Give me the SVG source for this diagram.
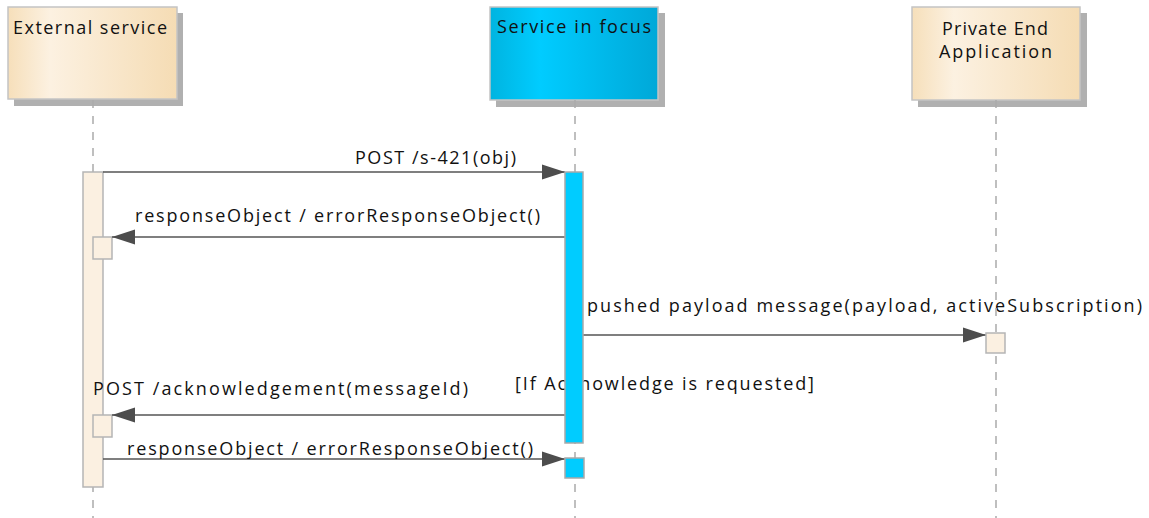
<svg xmlns="http://www.w3.org/2000/svg" width="1149" height="518" viewBox="0 0 1149 518">
<style>
text{font-family:"Open Sans","Liberation Sans",Arial,sans-serif;font-size:18px;fill:#111;}
.msg{stroke:#555;stroke-width:1.5;fill:none;marker-end:url(#arr);}
.life{stroke:#aaa;stroke-width:1.5;stroke-dasharray:8 8;fill:none;}
.shadow{fill:#b0b0b0;}
.hdr{stroke:#c4c4c4;stroke-width:1.5;}
.actB{fill:#fbf0e1;stroke:#b5b5b5;stroke-width:1.5;}
.actC{fill:#00ccff;stroke:#a9a9a9;stroke-width:1.5;}
</style>
<defs>
<linearGradient id="beige" x1="0" y1="0" x2="1" y2="0">
<stop offset="0" stop-color="#f6dfba"/>
<stop offset="0.25" stop-color="#fcf1e1"/>
<stop offset="1" stop-color="#f5dcb4"/>
</linearGradient>
<linearGradient id="cyan" x1="0" y1="0" x2="1" y2="0">
<stop offset="0" stop-color="#00b4e0"/>
<stop offset="0.3" stop-color="#00ccff"/>
<stop offset="1" stop-color="#00a8d8"/>
</linearGradient>
<marker id="arr" markerWidth="23" markerHeight="16" refX="23" refY="8" orient="auto" markerUnits="userSpaceOnUse">
<path d="M0,0.5 L23,8 L0,15.5 z" fill="#4d4d4d"/>
</marker>
</defs>
<rect width="1149" height="518" fill="#fff"/>

<g id="external">
<rect class="shadow" x="14" y="13" width="169" height="93"/>
<rect class="hdr" x="8" y="7" width="169" height="92" fill="url(#beige)"/>
<text x="13" y="34" textLength="154" lengthAdjust="spacing">External service</text>
<path class="life" d="M93,100 V518"/>
<rect class="actB" x="83" y="172" width="20" height="315"/>
<rect class="actB" x="93" y="237" width="19" height="22"/>
<rect class="actB" x="93" y="415" width="19" height="22"/>
</g>

<g id="connectors">
<path class="msg" d="M103,172 H565"/>
<text x="355" y="164" textLength="161" lengthAdjust="spacing">POST /s-421(obj)</text>
<path class="msg" d="M565,237 H112"/>
<text x="135" y="222" textLength="405" lengthAdjust="spacing">responseObject / errorResponseObject()</text>
<path class="msg" d="M583,335 H986"/>
<text x="587" y="312" textLength="555" lengthAdjust="spacing">pushed payload message(payload, activeSubscription)</text>
<path class="msg" d="M565,415 H112"/>
<text x="93" y="395" textLength="375" lengthAdjust="spacing">POST /acknowledgement(messageId)</text>
<text x="515" y="390" textLength="299" lengthAdjust="spacing">[If Acknowledge is requested]</text>
<path class="msg" d="M103,459 H565"/>
<text x="127" y="455" textLength="406" lengthAdjust="spacing">responseObject / errorResponseObject()</text>
</g>

<g id="focus">
<rect class="shadow" x="496" y="13" width="169" height="94"/>
<rect class="hdr" x="490" y="7" width="168" height="93" fill="url(#cyan)"/>
<text x="497" y="33" textLength="154" lengthAdjust="spacing">Service in focus</text>
<path class="life" d="M575,100 V518"/>
<rect class="actC" x="565" y="172" width="18" height="271"/>
<rect class="actC" x="565" y="458" width="19" height="20"/>
</g>

<g id="private">
<rect class="shadow" x="918" y="13" width="169" height="94"/>
<rect class="hdr" x="912" y="7" width="168" height="93" fill="url(#beige)"/>
<text x="942" y="35" textLength="106" lengthAdjust="spacing">Private End</text>
<text x="939" y="58" textLength="113" lengthAdjust="spacing">Application</text>
<path class="life" d="M996,100 V518"/>
<rect class="actB" x="986" y="333" width="19" height="20"/>
</g>
</svg>
